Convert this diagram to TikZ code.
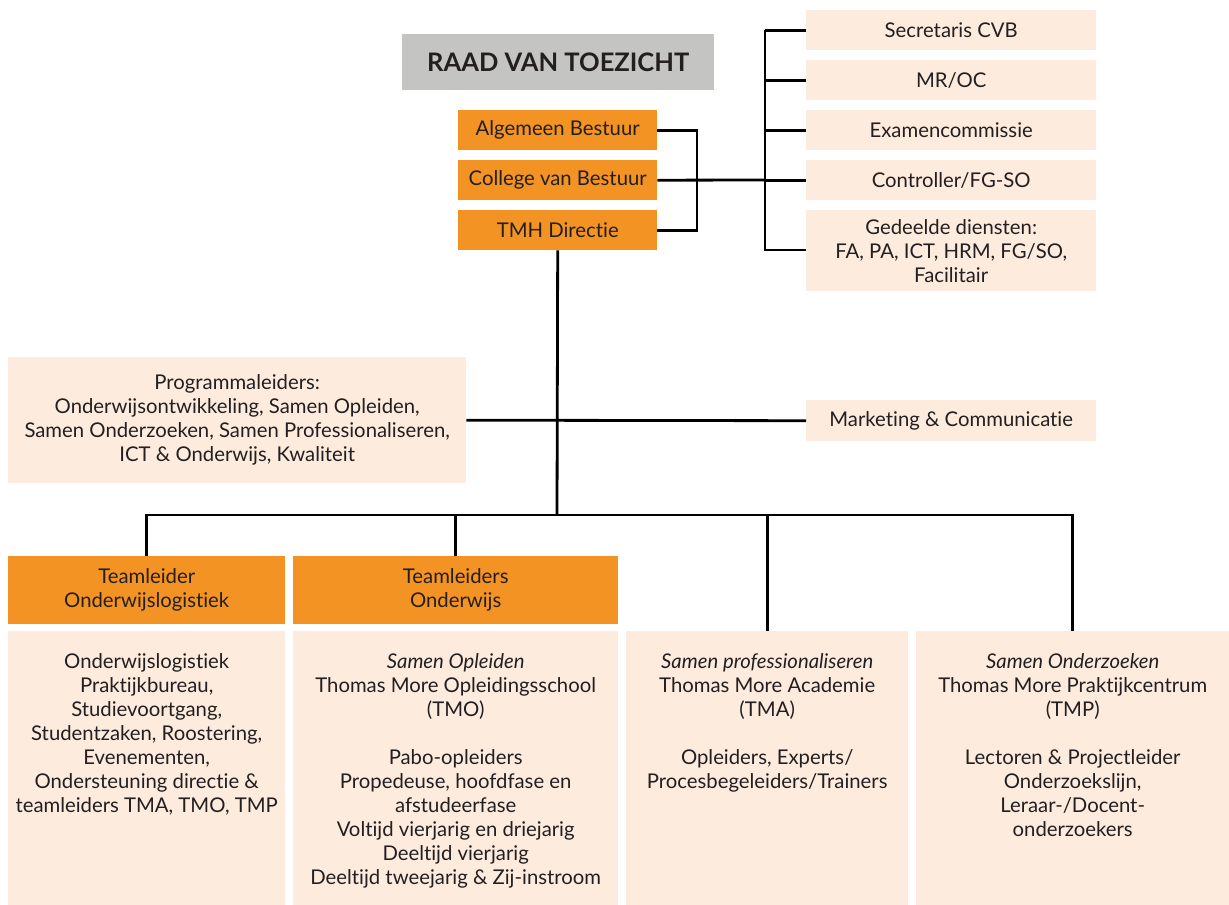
\documentclass[tikz,border=0pt]{standalone}
\usepackage{fontspec}
\setmainfont{Lato}[Ligatures=NoCommon]
\definecolor{orng}{HTML}{F39323}
\definecolor{peach}{HTML}{FDEBDD}
\definecolor{grayb}{HTML}{C4C5C2}
\definecolor{ink}{HTML}{231F20}
\begin{document}
\begin{tikzpicture}[x=1pt,y=-1pt,
  base/.style={inner sep=0pt, align=center, text=ink, font=\fontsize{20.3}{24}\selectfont, anchor=north west},
  obox/.style={base, fill=orng},
  pbox/.style={base, fill=peach},
  gbox/.style={base, fill=grayb},
  txt/.style={inner sep=0pt, align=center, text=ink, font=\fontsize{20.3}{24}\selectfont, anchor=north},
  conn/.style={draw=black, line width=2.8pt}]
\useasboundingbox[fill=white] (0,0) rectangle (1229,905);
% top
\node[gbox, minimum width=312pt, minimum height=56pt, font=\fontsize{25.5}{28}\selectfont\bfseries] (rvt) at (402,34) {RAAD VAN TOEZICHT};
\node[obox, minimum width=199pt, minimum height=40pt] (ab) at (458,110) {Algemeen Bestuur};
\node[obox, minimum width=199pt, minimum height=40pt] (cvb) at (458,160) {College van Bestuur};
\node[obox, minimum width=199pt, minimum height=40pt] (tmh) at (458,210) {TMH Directie};
% right column
\node[pbox, minimum width=290pt, minimum height=40pt] (sec) at (806,10) {Secretaris CVB};
\node[pbox, minimum width=290pt, minimum height=40pt] (mr) at (806,60) {MR/OC};
\node[pbox, minimum width=290pt, minimum height=40pt] (exa) at (806,110) {Examencommissie};
\node[pbox, minimum width=290pt, minimum height=40pt] (con) at (806,160) {Controller/FG-SO};
\node[pbox, minimum width=290pt, minimum height=81pt] (ged) at (806,210) {Gedeelde diensten:\\FA, PA, ICT, HRM, FG/SO,\\Facilitair};
% middle
\node[pbox, minimum width=458pt, minimum height=126pt] (prog) at (8,357) {Programmaleiders:\\Onderwijsontwikkeling, Samen Opleiden,\\Samen Onderzoeken, Samen Professionaliseren,\\ICT \& Onderwijs, Kwaliteit};
\node[pbox, minimum width=290pt, minimum height=41pt] (mark) at (806,400) {Marketing \& Communicatie};
% team leaders
\node[obox, minimum width=277pt, minimum height=68pt] (tlo) at (8,556) {Teamleider\\Onderwijslogistiek};
\node[obox, minimum width=325pt, minimum height=68pt] (tlon) at (293,556) {Teamleiders\\Onderwijs};
% bottom boxes
\node[pbox, minimum width=277pt, minimum height=274pt] (b1) at (8,631) {};
\node[pbox, minimum width=325pt, minimum height=274pt] (b2) at (293,631) {};
\node[pbox, minimum width=282pt, minimum height=274pt] (b3) at (626,631) {};
\node[pbox, minimum width=313pt, minimum height=274pt] (b4) at (916,631) {};
\node[txt] (t1) at ([yshift=-22pt]b1.north) {Onderwijslogistiek\\Praktijkbureau,\\Studievoortgang,\\Studentzaken, Roostering,\\Evenementen,\\Ondersteuning directie \&\\teamleiders TMA, TMO, TMP};
\node[txt] (t2) at ([yshift=-22pt]b2.north) {\textit{Samen Opleiden}\\Thomas More Opleidingsschool\\(TMO)\\[24pt]Pabo-opleiders\\Propedeuse, hoofdfase en\\afstudeerfase\\Voltijd vierjarig en driejarig\\Deeltijd vierjarig\\Deeltijd tweejarig \& Zij-instroom};
\node[txt] (t3) at ([yshift=-22pt]b3.north) {\textit{Samen professionaliseren}\\Thomas More Academie\\(TMA)\\[24pt]Opleiders, Experts/\\Procesbegeleiders/Trainers};
\node[txt] (t4) at ([yshift=-22pt]b4.north) {\textit{Samen Onderzoeken}\\Thomas More Praktijkcentrum\\(TMP)\\[24pt]Lectoren \& Projectleider\\Onderzoekslijn,\\Leraar-/Docent-\\onderzoekers};
% connectors
\coordinate (bx) at (697,180);
\coordinate (rtop) at (765,30);
\coordinate (rbot) at (765,250);
\coordinate (rmid) at (765,180);
\coordinate (hub) at (557,515);
\draw[conn] (ab.east) -| (bx) |- (tmh.east);
\draw[conn] (cvb.east) -- (rmid);
\draw[conn] (sec.west) -| (rtop) -- (rbot) -- (rbot -| ged.west);
\draw[conn] (mr.west) -- (mr.west -| rtop);
\draw[conn] (exa.west) -- (exa.west -| rtop);
\draw[conn] (con.west) -- (con.west -| rtop);
\draw[conn] (tmh.south) -- (hub);
\draw[conn] (prog.east) -- (mark.west);
\draw[conn] (tlo.north) |- (b4.north |- hub) -- (b4.north);
\draw[conn] (tlon.north) -- (tlon.north |- hub);
\draw[conn] (b3.north) -- (b3.north |- hub);
\end{tikzpicture}
\end{document}
